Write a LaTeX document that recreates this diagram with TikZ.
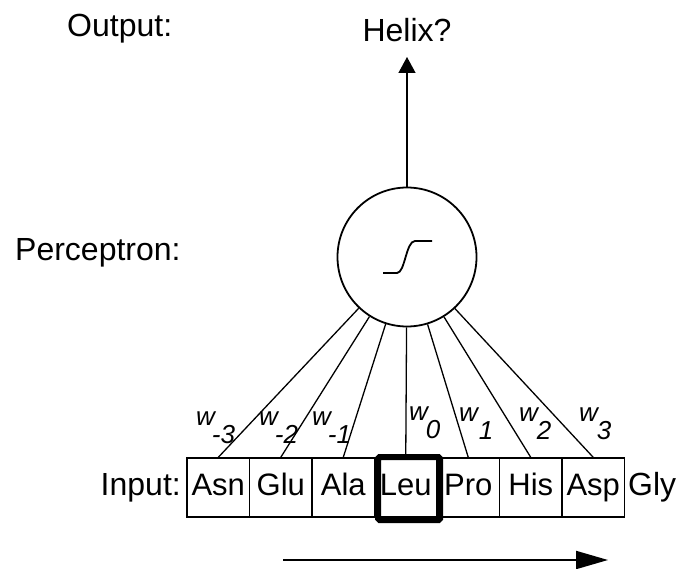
\documentclass[tikz,border=0pt]{standalone}
\usepackage{fontspec}
\setmainfont{Liberation Sans}
\usetikzlibrary{arrows.meta}
\tikzset{
  lbl/.style={font=\fontsize{32}{38}\selectfont, inner sep=0pt},
  cell/.style={draw, line width=1.3pt, minimum width=62.5pt, minimum height=59pt,
    inner sep=0pt, text height=23pt, text depth=8pt, font=\fontsize{31}{36}\selectfont},
  wlab/.style={anchor=base west, inner sep=0pt, font=\fontsize{26}{30}\selectfont\itshape},
  conn/.style={line width=1.3pt},
}
\newcommand{\wsub}[2]{w\kern#1pt\raisebox{-18pt}{#2}}
\begin{document}
\begin{tikzpicture}[x=1pt,y=-1pt]
\useasboundingbox (0,0) rectangle (676,569);
% labels
\node[lbl, anchor=base west] (out) at (67,37) {Output:};
\node[lbl, anchor=base] (helix) at (407,42) {Helix?};
\node[lbl, anchor=base west] (perc) at (15,260) {Perceptron:};
\node[lbl, anchor=base east] (inp) at (181,495) {Input:};
% perceptron
\node[draw, circle, line width=1.8pt, minimum size=139pt, inner sep=0pt] (p) at (407,257) {};
\draw[line width=1.8pt] (383,273) -- (397,273) .. controls (405,273) and (406,241) .. (415,241) -- (432,241);
\coordinate (tip) at (407,57);
\draw[conn, -{Triangle[length=16pt,width=17pt]}] (p) -- (tip);
% cells
\foreach \t [count=\i from 0] in {Asn,Glu,Ala,Leu,Pro,His,Asp} {
  \node[cell] (c\i) at ({218.25+62.5*\i},487.5) {\t};
}
\node[lbl, anchor=base west] (gly) at (628,495) {Gly};
\draw[line width=6pt, rounded corners=1.5pt] (378,457) rectangle (440,520);
% connections
\foreach \i in {0,...,6} { \draw[conn] (p) -- (c\i.north); }
% weights
\node[wlab] (w0) at (196,425) {\wsub{-3}{-3}};
\node[wlab] (w1) at (259,425) {\wsub{-3}{-2}};
\node[wlab] (w2) at (312,425) {\wsub{-3}{-1}};
\node[wlab] (w3) at (409,420) {\wsub{-2}{0}};
\node[wlab] (w4) at (459,421) {\wsub{1}{1}};
\node[wlab] (w5) at (519,421) {\wsub{-1}{2}};
\node[wlab] (w6) at (579,421) {\wsub{-1}{3}};
% direction arrow
\coordinate (a0) at (283,560);
\coordinate (a1) at (608,560);
\draw[line width=2pt, -{Triangle[length=32pt,width=18pt]}] (a0) -- (a1);
\end{tikzpicture}
\end{document}
